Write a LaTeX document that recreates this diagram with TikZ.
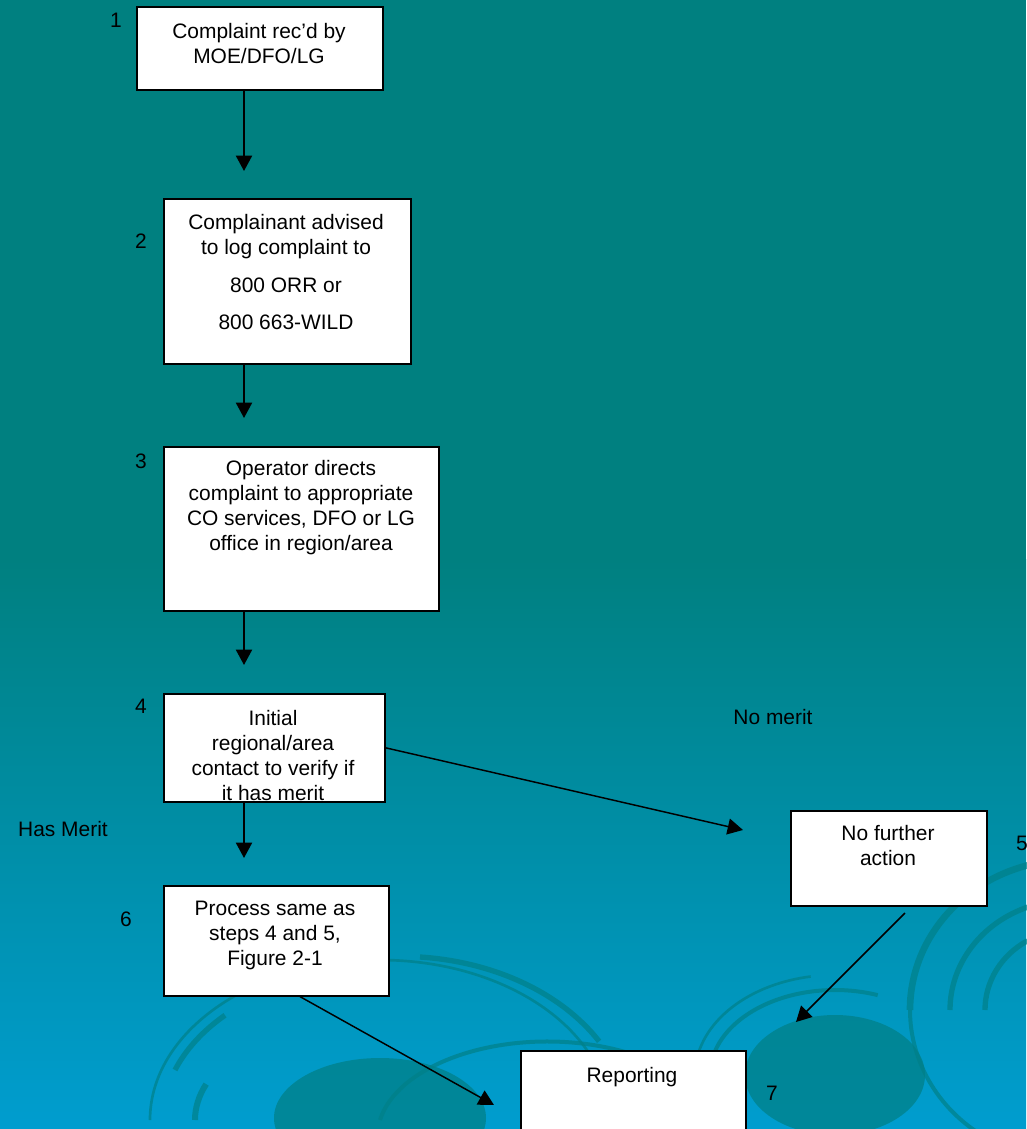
\documentclass[tikz,border=0pt]{standalone}
\usepackage{fontspec}
\setmainfont{Liberation Sans}
\usetikzlibrary{arrows.meta}
\definecolor{bgtop}{RGB}{0,128,128}
\definecolor{bgbot}{RGB}{0,157,207}
\definecolor{swirl}{RGB}{0,128,136}
\begin{document}
\begin{tikzpicture}[x=0.75pt,y=-0.75pt,
  box/.style={draw=black,line width=1.2pt,fill=white,inner sep=0pt,anchor=north west},
  txt/.style={font=\fontsize{15.7}{18.8}\selectfont,align=center,inner sep=0pt,anchor=north},
  num/.style={font=\fontsize{15.7}{18.8}\selectfont,inner sep=0pt},
  arr/.style={line width=1.5pt,-{Triangle[width=12pt,length=11.5pt]}},
  darr/.style={line width=1.1pt,-{Triangle[width=12pt,length=11.5pt]}},
  sw/.style={draw=swirl,opacity=0.7}]
\useasboundingbox (0,0) rectangle (1026,1129);
% background
\fill[bgtop] (0,0) rectangle (1026,560);
\shade[top color=bgtop,bottom color=bgbot] (0,559) rectangle (1026,1129);
% decorative swirls
\fill[swirl,opacity=0.75] (380,1118) ellipse[x radius=106,y radius=60];
\fill[swirl,opacity=0.75] (835,1075) ellipse[x radius=90,y radius=60];
\draw[sw,line width=3pt] (380,1120) arc[start angle=190,end angle=345,x radius=170,y radius=95];
\draw[sw,line width=4.5pt] (380,1120) ++(-185,0) arc[start angle=180,end angle=200,x radius=185,y radius=105];
\draw[sw,line width=2pt] (380,1120) ++(-230,0) arc[start angle=180,end angle=350,x radius=230,y radius=160];
\draw[sw,line width=4pt] (380,1120) ++(-205,-50) arc[start angle=200,end angle=225,x radius=215,y radius=150];
\draw[sw,line width=4pt] (380,1120) ++(40,-163) arc[start angle=275,end angle=330,x radius=230,y radius=170];
\draw[sw,line width=3pt] (835,1075) ++(-125,0) arc[start angle=180,end angle=290,x radius=125,y radius=85];
\draw[sw,line width=2pt] (835,1075) ++(-140,0) arc[start angle=180,end angle=260,x radius=140,y radius=100];
\draw[sw,line width=5pt] (1070,1010) ++(-160,0) arc[start angle=180,end angle=260,x radius=160,y radius=150];
\draw[sw,line width=4pt] (1070,1010) ++(-120,0) arc[start angle=180,end angle=250,x radius=120,y radius=110];
\draw[sw,line width=4pt] (1070,1010) ++(-85,0) arc[start angle=180,end angle=240,x radius=85,y radius=80];
\draw[sw,line width=3pt] (1070,1010) ++(-160,0) arc[start angle=180,end angle=120,x radius=160,y radius=150];
% boxes
\node[box,minimum width=184.5pt,minimum height=62.25pt] (b1) at (136,6) {};
\node[box,minimum width=185.25pt,minimum height=123.75pt] (b2) at (163,198) {};
\node[box,minimum width=206.25pt,minimum height=123pt] (b3) at (163,446) {};
\node[box,minimum width=165.75pt,minimum height=81pt] (b4) at (163,693) {};
\node[box,minimum width=147pt,minimum height=71.25pt] (b5) at (790,810) {};
\node[box,minimum width=168.75pt,minimum height=82.5pt] (b6) at (163,885) {};
\node[box,minimum width=168.75pt,minimum height=67.5pt] (b7) at (520,1050) {};
% texts
\node[txt] (t1) at (259,23) {Complaint rec’d by\\MOE/DFO/LG};
\node[txt] (t2) at (286,214) {Complainant advised\\to log complaint to\\[9.5pt]800 ORR or\\[9.5pt]800 663-WILD};
\node[txt] (t3) at (301,460) {Operator directs\\complaint to appropriate\\CO services, DFO or LG\\office in region/area};
\begin{scope}
  \clip (b4.north west) rectangle (b4.south east);
  \node[txt] (t4) at (273,710) {Initial\\regional/area\\contact to verify if\\it has merit};
\end{scope}
\draw[line width=1.2pt] (b4.south west) -- (b4.south east);
\node[txt] (t5) at (888,825) {No further\\action};
\node[txt] (t6) at (275,901) {Process same as\\steps 4 and 5,\\Figure 2-1};
\node[txt] (t7) at (632,1067) {Reporting};
% numbers and labels
\node[num] (n1) at (116,20) {1};
\node[num] (n2) at (141,241) {2};
\node[num] (n3) at (141,461) {3};
\node[num] (n4) at (141,706) {4};
\node[num] (n5) at (1022,843) {5};
\node[num] (n6) at (126,919) {6};
\node[num] (n7) at (772,1093) {7};
\node[num] (lnm) at (773,717) {No merit};
\node[num] (lhm) at (63,829) {Has Merit};
% connectors
\coordinate (e12) at (244,171);
\coordinate (e23) at (244,418);
\coordinate (e34) at (244,665);
\coordinate (e46) at (244,858);
\coordinate (e45) at (743,830);
\coordinate (s57) at (905,913);
\coordinate (e57) at (796,1022);
\coordinate (e67) at (494,1105);
\draw[arr] (b1.south -| e12) -- (e12);
\draw[arr] (b2.south -| e23) -- (e23);
\draw[arr] (b3.south -| e34) -- (e34);
\draw[arr] (b4.south -| e46) -- (e46);
\draw[darr] (b4.east) -- (e45);
\draw[darr] (s57) -- (e57);
\draw[darr] (b6.south -| 300,0) -- (e67);
\end{tikzpicture}
\end{document}
